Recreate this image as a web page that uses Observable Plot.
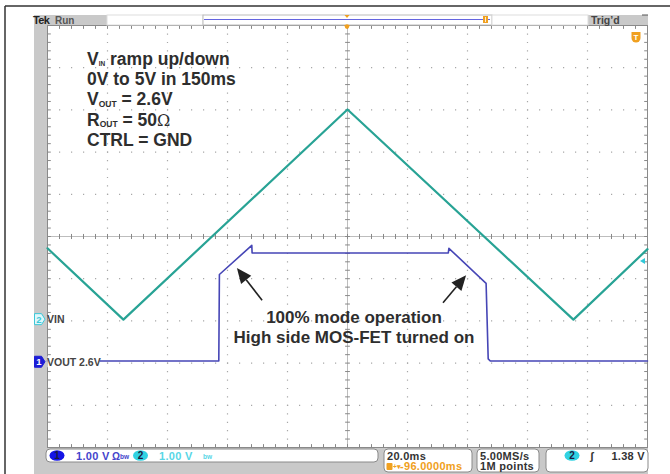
<!DOCTYPE html>
<html><head><meta charset="utf-8">
<script src="https://cdn.jsdelivr.net/npm/d3@7"></script>
<script src="https://cdn.jsdelivr.net/npm/@observablehq/plot@0.6"></script>
<style>body{margin:0;background:#fff}#chart{width:670px;height:474px;position:relative}</style>
</head><body><div id="chart"></div>
<script>
// ---- data (time in ms from screen centre, voltages in V) ----
const vinTimeMs  = [-100, -74.7, 0, 75.3, 100];
const vinVolts   = [1.69, 0, 4.98, 0, 1.67];
const voutTimeMs = [-100, -42.9, -42.7, -31.9, -31.8, -31.4, 33.6, 33.8, 46.2, 46.9, 47.6, 100];
const voutVolts  = [2.63, 2.63, 4.68, 5.37, 5.19, 5.19, 5.19, 5.30, 4.47, 2.68, 2.63, 2.63];
const vinOffsetDiv = -1.97;     // ch2 ground marker position (divisions)
const voutOffsetDiv = -2.98;    // ch1 marker position (divisions)
const voutRefVolts = 2.6;       // ch1 offset
const triggerLevelV = 1.38;
const channelLabels = ["VOUT 2.6V", "VIN"];
const channelScales = ["1.00 V", "1.00 V"];
const timeBase = "20.0ms";
const triggerDelay = "-96.0000ms";
const sampleRate = "5.00MS/s";
const recordLength = "1M points";
const triggerText = "1.38 V";
const noteLines = [["V","IN"," ramp up/down"],["0V to 5V in 150ms"],["V","OUT"," = 2.6V"],["R","OUT"," = 50","Ω"],["CTRL = GND"]];
const calloutLines = ["100% mode operation", "High side MOS-FET turned on"];
const arrowTailT = [-28.3, 32.0], arrowTailDiv = [-1.52, -1.58];
const arrowTipT  = [-36.7, 39.7], arrowTipDiv  = [-0.76, -0.93];

const vinData = vinTimeMs.map((t,i)=>({t, d: vinVolts[i] + vinOffsetDiv}));
const voutData = voutTimeMs.map((t,i)=>({t, d: voutVolts[i] - voutRefVolts + voutOffsetDiv}));

const majorT = d3.range(-80, 100, 20).filter(v=>v!==0);
const majorD = d3.range(-4, 5, 1).filter(v=>v!==0);
const minorT = d3.range(-96, 100, 4);
const minorD = d3.range(-4.8, 5, 0.2);
const gridC = "#a8a8a8";

const plot = Plot.plot({
  width: 670, height: 474,
  marginLeft: 47, marginRight: 23, marginTop: 25, marginBottom: 27,
  x: {domain: [-100, 100], axis: null},
  y: {domain: [-5, 5], axis: null},
  style: {background: "transparent", overflow: "visible"},
  marks: [
    Plot.ruleX(majorT, {stroke: gridC, strokeWidth: 1.2, strokeDasharray: "1.2,7.24"}),
    Plot.ruleY(majorD, {stroke: gridC, strokeWidth: 1.2, strokeDasharray: "1.2,10.8"}),
    Plot.ruleX([0], {stroke: "#bdbdbd", strokeWidth: 1}),
    Plot.ruleY([0], {stroke: "#bdbdbd", strokeWidth: 1}),
    Plot.link(minorT, {x1: d=>d, x2: d=>d, y1: -0.06, y2: 0.06, stroke: "#888"}),
    Plot.link(minorD, {y1: d=>d, y2: d=>d, x1: -0.8, x2: 0.8, stroke: "#888"}),
    Plot.link(minorT, {x1: d=>d, x2: d=>d, y1: 5, y2: 4.92, stroke: "#888"}),
    Plot.link(minorT, {x1: d=>d, x2: d=>d, y1: -5, y2: -4.92, stroke: "#888"}),
    Plot.link(minorD, {y1: d=>d, y2: d=>d, x1: -100, x2: -98.9, stroke: "#888"}),
    Plot.link(minorD, {y1: d=>d, y2: d=>d, x1: 100, x2: 98.9, stroke: "#888"}),
    Plot.frame({stroke: "#8a8a8a"}),
    Plot.line(vinData, {x: "t", y: "d", stroke: "#28a395", strokeWidth: 2.2}),
    Plot.line(voutData, {x: "t", y: "d", stroke: "#4646b6", strokeWidth: 1.6})
  ]
});
document.getElementById("chart").appendChild(plot);

const xs = plot.scale("x"), ys = plot.scale("y");
const X = v => xs.apply(v), Y = v => ys.apply(v);
const svg = d3.select(plot);
const F = "'Liberation Sans', Arial, sans-serif";

// ---- background chrome ----
const bg = svg.insert("g", ":first-child");
bg.append("rect").attr("width", 670).attr("height", 474).attr("fill", "#fff");
bg.append("rect").attr("x", 34).attr("y", 15).attr("width", 614).attr("height", 459).attr("fill", "#c9c9c9");
bg.append("rect").attr("x", X(-100)).attr("y", Y(5)).attr("width", X(100)-X(-100)).attr("height", Y(-5)-Y(5)).attr("fill", "#fff");
bg.append("line").attr("x1", 5).attr("x2", 5).attr("y1", 6).attr("y2", 474).attr("stroke", "#333").attr("stroke-width", 1.5);
bg.append("line").attr("x1", 5).attr("x2", 670).attr("y1", 6).attr("y2", 6).attr("stroke", "#333").attr("stroke-width", 1.5);

const fg = svg.append("g").attr("text-anchor", "start");
// header
fg.append("rect").attr("x", 107).attr("y", 15).attr("width", 96).attr("height", 10).attr("fill", "#fff").attr("stroke", "#ddd");
fg.append("rect").attr("x", 203).attr("y", 15).attr("width", 289).attr("height", 10).attr("fill", "#fff").attr("stroke", "#bbb");
fg.append("rect").attr("x", 492).attr("y", 15).attr("width", 96).attr("height", 10).attr("fill", "#fff").attr("stroke", "#ddd");
fg.append("line").attr("x1", 204).attr("x2", 490).attr("y1", 19.5).attr("y2", 19.5).attr("stroke", "#6464e0").attr("stroke-width", 1.2);
fg.append("path").attr("d", `M${X(0)-2.5},15 h5 l-2.5,3 z`).attr("fill", "#f0a020");
fg.append("rect").attr("x", 483).attr("y", 16).attr("width", 5).attr("height", 7).attr("fill", "#f0a020");
fg.append("line").attr("x1", 485.5).attr("x2", 485.5).attr("y1", 17).attr("y2", 22).attr("stroke", "#fff").attr("stroke-width", 0.8);
fg.append("text").attr("x", 33).attr("y", 23.5).attr("font-family", F).attr("font-weight", "bold").attr("font-size", 11).attr("fill", "#222").attr("letter-spacing", -0.6).text("Tek");
fg.append("text").attr("x", 55).attr("y", 23.5).attr("font-family", F).attr("font-weight", "bold").attr("font-size", 10).attr("fill", "#555").text("Run");
fg.append("text").attr("x", 591).attr("y", 23.5).attr("font-family", F).attr("font-weight", "bold").attr("font-size", 10.5).attr("fill", "#444").text("Trig\u2019d");
fg.append("line").attr("x1", 642).attr("x2", 648).attr("y1", 15).attr("y2", 15).attr("stroke", "#555");
// trigger position marker on grid
fg.append("path").attr("d", `M${X(0)-3},25 h6 l-3,4 z`).attr("fill", "#f0a020");
fg.append("circle").attr("cx", X(0)).attr("cy", 26.5).attr("r", 2.2).attr("fill", "#f0a020");
// T icon
fg.append("path").attr("d", "M631.5,32 h9 v6 a4.5,4.5 0 0 1 -9,0 z").attr("fill", "#f0a020");
fg.append("text").attr("x", 636).attr("y", 40).attr("text-anchor", "middle").attr("font-family", F).attr("font-weight", "bold").attr("font-size", 8).attr("fill", "#fff").text("T");
// trigger level marker (right edge)
fg.append("path").attr("d", `M${X(100)-7},${Y(triggerLevelV+vinOffsetDiv)} l5,-3 v6 z`).attr("fill", "#30c8d8");

// channel markers and labels
function marker(yPix, fill, stroke, txt, tc) {
  fg.append("path").attr("d", `M34.5,${yPix-5.5} h7 l3.5,5.5 l-3.5,5.5 h-7 z`).attr("fill", fill).attr("stroke", stroke);
  fg.append("text").attr("x", 39).attr("y", yPix+3.5).attr("text-anchor", "middle").attr("font-family", F).attr("font-weight", "bold").attr("font-size", 9.5).attr("fill", tc).text(txt);
}
const yVin = Y(vinOffsetDiv), yVout = Y(voutOffsetDiv);
fg.append("rect").attr("x", 47.5).attr("y", yVout-5.5).attr("width", 52).attr("height", 11).attr("fill", "#fff");
marker(yVin, "#dff7fb", "#3cc8d8", "2", "#3cc8d8");
marker(yVout, "#1d1dd6", "#1d1dd6", "1", "#fff");
fg.append("text").attr("x", 47).attr("y", yVin+3.8).attr("font-family", F).attr("font-weight", "bold").attr("font-size", 10.5).attr("fill", "#444").text(channelLabels[1]);
fg.append("text").attr("x", 47).attr("y", yVout+3.8).attr("font-family", F).attr("font-weight", "bold").attr("font-size", 10.5).attr("fill", "#444").text(channelLabels[0]);

// note block
noteLines.forEach((parts, i) => {
  const t = fg.append("text").attr("x", 87).attr("y", 64.5 + i*20.4).attr("font-family", F).attr("font-weight", "bold").attr("font-size", 17.5).attr("fill", "#2e2e2e");
  if (parts.length === 1) { t.text(parts[0]); return; }
  t.append("tspan").text(parts[0]);
  t.append("tspan").attr("font-size", parts[1] === "IN" ? 6.5 : 8.5).attr("dy", 1.5).text(parts[1]);
  t.append("tspan").attr("dy", -1.5).text(parts[2]);
  if (parts[3]) t.append("tspan").attr("font-weight", "normal").attr("font-family", "'DejaVu Serif', serif").attr("font-size", 16).text(parts[3]);
});
// callout
calloutLines.forEach((s, i) => {
  fg.append("text").attr("x", 354).attr("y", 323 + i*19.5).attr("text-anchor", "middle").attr("font-family", F).attr("font-weight", "bold").attr("font-size", 17).attr("fill", "#2e2e2e").text(s);
});
// arrows
arrowTailT.forEach((_, i) => {
  const x1 = X(arrowTailT[i]), y1 = Y(arrowTailDiv[i]), x2 = X(arrowTipT[i]), y2 = Y(arrowTipDiv[i]);
  const a = Math.atan2(y2-y1, x2-x1), L = 15, W2 = 6.5;
  const bx = x2 - L*Math.cos(a), by = y2 - L*Math.sin(a);
  fg.append("line").attr("x1", x1).attr("y1", y1).attr("x2", bx).attr("y2", by).attr("stroke", "#222").attr("stroke-width", 1.6);
  fg.append("path").attr("d", `M${x2},${y2} L${bx - W2*Math.sin(a)},${by + W2*Math.cos(a)} L${bx + W2*Math.sin(a)},${by - W2*Math.cos(a)} Z`).attr("fill", "#222");
});

// status bar
const SF = "'Liberation Sans', Arial, sans-serif";
function box(x, w, h) { fg.append("rect").attr("x", x).attr("y", 449).attr("width", w).attr("height", h).attr("rx", 4).attr("fill", "#fff").attr("stroke", "#8a8a8a"); }
function st(x, y, s, c, anchor) { return fg.append("text").attr("x", x).attr("y", y).attr("text-anchor", anchor || "start").attr("font-family", SF).attr("font-weight", "bold").attr("font-size", 11).attr("letter-spacing", 0.3).attr("fill", c).text(s); }
function chip(cx, fill, txt) {
  fg.append("ellipse").attr("cx", cx).attr("cy", 455.5).attr("rx", 7.5).attr("ry", 5.3).attr("fill", fill);
  fg.append("text").attr("x", cx).attr("y", 459.3).attr("text-anchor", "middle").attr("font-family", SF).attr("font-weight", "bold").attr("font-size", 10).attr("fill", "#1a1a40").text(txt);
}
box(46, 332, 13);
chip(57, "#1414e6", "1");
st(76, 459.5, channelScales[0], "#4444cc");
fg.append("text").attr("x", 112).attr("y", 459.5).attr("font-family", SF).attr("font-weight", "bold").attr("font-size", 10).attr("fill", "#4444cc").text("\u03a9");
fg.append("text").attr("x", 120).attr("y", 459).attr("font-family", SF).attr("font-weight", "bold").attr("font-size", 6.5).attr("fill", "#4444cc").text("bw");
chip(140.5, "#30d2e2", "2");
st(159, 459.5, channelScales[1], "#58d6e6");
fg.append("text").attr("x", 203).attr("y", 459).attr("font-family", SF).attr("font-weight", "bold").attr("font-size", 6.5).attr("fill", "#58d6e6").text("bw");
box(384, 88, 23);
st(387, 459.5, timeBase, "#333");
fg.append("rect").attr("x", 386.5).attr("y", 463).attr("width", 6).attr("height", 7).attr("rx", 1).attr("fill", "#f0a020");
fg.append("text").attr("x", 393).attr("y", 469).attr("font-family", SF).attr("font-weight", "bold").attr("font-size", 6.5).attr("fill", "#f0a020").text("+\u25be");
st(400, 470, triggerDelay, "#f0a020");
box(477, 62, 23);
st(480, 459.5, sampleRate, "#333");
st(480, 470, recordLength, "#333");
box(546, 102, 23);
chip(572, "#30d2e2", "2");
st(590, 459.5, "\u0283", "#333");
st(645, 459.5, triggerText, "#333", "end");
</script></body></html>
